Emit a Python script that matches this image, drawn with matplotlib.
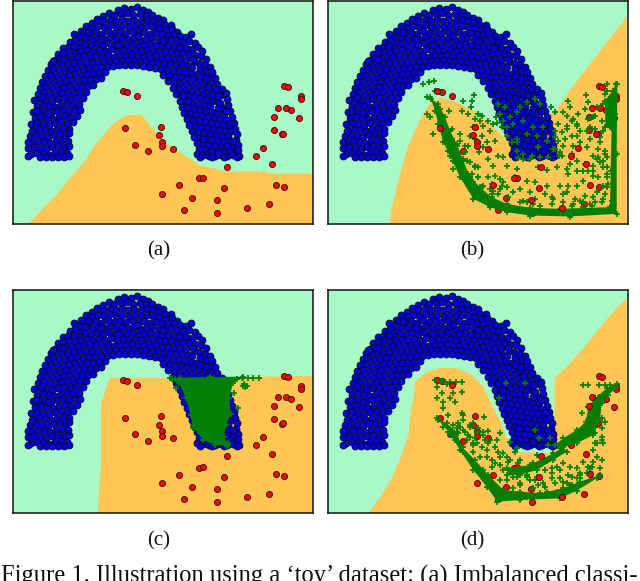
#!/usr/bin/env python3

import numpy as np

import matplotlib
matplotlib.use('Agg')
import matplotlib.pyplot as plt

# blue class, same in all four panels (x, y)
blue_pts = [
    (105,9),(111,7),(118,8),(124,6),(130,9),(135,11),
    (90,15),(96,12),(101,14),(108,13),(114,12),(120,14),(127,13),(133,15),(139,14),(145,17),(150,19),
    (79,22),(84,18),(90,20),(97,19),(103,20),(109,18),(115,20),(121,19),(128,20),(134,19),(140,20),(146,22),(152,24),(158,24),
    (68,30),(73,25),(79,27),(85,25),(91,26),(103,26),(109,25),(116,26),(122,25),(128,26),(134,25),(140,26),(146,27),(153,29),(159,28),(164,31),
    (61,33),(66,36),(71,31),(77,32),(83,31),(89,33),(101,32),(107,31),(113,32),(120,31),(126,32),(131,31),(137,33),(143,32),(149,33),(155,34),(161,33),(167,35),(173,36),(178,33),
    (57,41),(62,39),(68,42),(73,37),(79,38),(85,37),(91,38),(97,36),(103,38),(109,37),(115,38),(121,37),(127,39),(133,38),(139,37),(146,39),(152,39),(158,39),(164,40),(170,41),(176,40),(182,42),
    (50,47),(55,46),(60,45),(66,47),(72,43),(78,44),(84,43),(90,44),(96,42),(102,44),(108,43),(114,44),(120,43),(126,45),(131,44),(137,43),(143,44),(149,45),(155,45),(161,46),(167,46),(173,47),(179,48),(185,46),(189,50),
    (45,53),(50,52),(56,51),(62,52),(68,50),(74,49),(80,50),(86,49),(92,50),(98,48),(104,50),(110,49),(116,50),(122,49),(134,49),(140,50),(146,50),(152,51),(158,51),(164,52),(170,52),(176,53),(182,54),(188,55),(193,58),
    (42,59),(47,57),(53,57),(59,58),(65,56),(71,55),(77,56),(83,55),(89,56),(95,54),(101,56),(107,55),(113,55),(119,54),(125,56),(131,55),(143,55),(149,57),(155,57),(161,58),(167,58),(173,59),(186,62),(192,64),(197,66),
    (38,63),(43,62),(49,63),(55,64),(61,62),(67,61),(73,62),(79,61),(85,62),(91,60),(97,61),(103,60),(109,60),(115,59),(121,60),(127,61),(133,60),(139,61),(145,61),(151,63),(157,63),(163,64),(169,64),(175,65),(187,68),(193,70),(199,71),
    (35,69),(40,68),(46,69),(52,70),(58,68),(64,67),(70,68),(76,67),(82,67),(88,66),(94,66),(100,65),(106,64),(112,64),(118,64),(124,64),(130,65),(136,66),(142,67),(148,68),(154,69),(160,70),(166,70),(172,71),(178,72),(184,73),(190,75),(202,77),
    (32,75),(38,74),(44,75),(50,76),(56,74),(62,73),(68,74),(74,73),(80,73),(86,72),(92,71),(150,74),(156,75),(162,76),(168,76),(174,77),(180,78),(186,79),(192,81),(198,82),(204,83),
    (29,81),(35,80),(41,81),(47,82),(53,80),(59,79),(65,80),(71,79),(77,79),(83,78),(88,77),(155,80),(161,82),(167,82),(173,83),(179,84),(185,85),(197,88),(203,89),(209,88),
    (27,87),(33,86),(39,87),(45,88),(51,86),(57,85),(63,86),(69,85),(75,85),(80,84),(160,87),(166,88),(172,89),(178,90),(184,91),(190,93),(196,94),(202,95),(208,94),(213,92),
    (25,93),(31,92),(37,93),(43,94),(49,92),(55,91),(61,92),(67,91),(73,91),(163,93),(169,94),(175,95),(181,96),(187,97),(193,99),(199,100),(205,101),(214,98),
    (21,99),(27,98),(33,99),(39,100),(45,98),(51,97),(57,98),(63,97),(70,97),(167,100),(173,101),(179,102),(185,103),(191,104),(197,105),(210,107),(215,104),
    (24,105),(30,104),(36,105),(42,106),(48,104),(54,103),(60,104),(66,103),(169,106),(175,107),(181,108),(187,109),(193,110),(199,111),(204,112),(217,110),
    (20,111),(26,110),(32,111),(38,112),(44,110),(50,109),(56,110),(62,109),(67,109),(171,112),(177,113),(183,114),(189,115),(195,116),(201,117),(207,118),(213,119),(219,116),
    (22,117),(28,116),(34,117),(40,118),(46,116),(52,115),(58,116),(64,115),(174,118),(180,119),(186,120),(192,121),(198,122),(204,123),(210,124),(216,125),(221,122),
    (18,123),(24,122),(30,123),(42,122),(48,121),(54,122),(60,121),(176,124),(182,125),(188,126),(194,127),(200,128),(206,129),(212,130),(218,130),(222,128),
    (20,129),(26,128),(32,129),(38,130),(44,128),(50,127),(56,128),(179,130),(185,131),(191,132),(197,133),(203,134),(209,135),(215,135),(224,133),
    (17,135),(23,134),(29,135),(35,136),(41,134),(47,133),(53,134),(56,132),(181,136),(187,137),(193,138),(199,139),(205,140),(211,140),(217,140),(223,139),
    (19,141),(25,140),(31,141),(37,142),(43,140),(49,139),(55,140),(184,142),(190,143),(196,144),(202,145),(208,146),(214,145),(220,146),(225,144),
    (15,147),(21,146),(27,147),(33,148),(39,146),(45,145),(51,146),(56,145),(186,148),(192,149),(198,150),(204,151),(210,151),(216,150),(222,151),(225,149),
    (18,153),(24,152),(30,153),(36,154),(42,152),(48,151),(54,152),(184,153),(190,154),(196,155),(202,155),(208,154),(214,155),(220,154),(226,155),
    (15,155),(27,156),(33,156),(39,156),(45,156),(51,156),(56,155),(187,156),(199,156),(211,156),(224,156),
    (181,60),(179,66),(196,76),(191,87),(205,107),(211,113),(36,124),(128,50),(137,56),(97,24),(95,30),(187,75),(195,86),
    (200,94),(207,102),(213,110),(170,94),(175,100),(35,112),(29,96),(15,141),(19,130),(23,110),(40,60),(50,58),(61,45),
    (75,31),(88,38),(105,44),(125,35),(150,40),(166,47),(180,58),(193,77),(205,95),(217,122),(220,140),(205,152),(190,138),
]

# red class, same in all four panels
red_x = [109.7, 114, 124, 112.3, 147.7, 145.7, 149.3, 149, 122, 135, 160, 271.3, 274.7, 288.3, 288, 264.7,
         272.7, 278, 261.3, 286.3, 261.3, 268.7, 270, 250, 243.3, 258.7, 213.7, 186, 189.7, 165.7, 211.3,
         262.7, 271, 149.3, 178.7, 203.7, 170.7, 204.3, 234, 256]
red_y = [90, 91.3, 95, 127.7, 126.3, 134.7, 141, 145.7, 144, 150.7, 148, 85.7, 86.7, 95.7, 98.7, 107,
         107.3, 109.3, 116, 117, 129, 133.7, 133, 147.3, 155.3, 163.7, 166.3, 177.7, 177, 184.7, 187.3,
         184.3, 186, 193, 197, 199, 209, 212.3, 207.3, 203.7]
# red points mostly buried under the green samples
red_under_b = [1, 8, 9, 13, 14, 16, 17, 18, 19, 20, 22, 28, 32, 33, 34, 36, 37, 39]
red_under_d = [0, 1, 3, 5, 6, 7, 8, 9, 10, 13, 14, 16, 17, 20, 21, 22, 23, 24, 27, 28, 32, 34, 35, 36]

# classifier regions, orange side
orange_a_x = [16, 30, 43, 55, 70, 83, 100, 113, 128, 135, 147, 167, 187, 202, 213, 233, 253, 256, 299.5, 299.5]
orange_a_y = [223, 208, 195, 180, 163, 143, 123, 115, 114, 122, 137, 152, 165, 168, 171, 171, 171, 173, 173, 223]
orange_b_x = [62, 64, 69, 74, 80, 89, 96, 103, 114, 132, 152, 165, 179, 220, 223, 231, 246, 263, 279, 293, 299, 299.5]
orange_b_y = [223, 208, 187, 168, 147, 127, 113, 102, 97, 103, 113, 125, 140, 130, 113, 107, 85, 63, 42, 25, 15, 223]
orange_c_x = [85, 86, 88, 88, 91, 94, 97, 107, 150, 159, 220, 299.5, 299.5]
orange_c_y = [223, 200, 177, 113, 105, 95, 88, 88, 88, 90, 87, 86, 223]
orange_d_x = [41, 53, 65, 74, 81, 83, 87, 87, 99, 112, 129, 144, 156, 163, 173, 181, 186, 227, 223, 227, 227, 239, 256, 276, 289,
              299, 299.5]
orange_d_y = [223, 207, 187, 165, 145, 123, 103, 92, 82, 78, 78, 85, 97, 113, 132, 153, 162, 163, 150, 140, 88, 77, 58, 33, 18,
              9, 223]

# green samples of (b), solid band read as an outline
band_b_x = np.array([33, 45, 55, 70, 90, 120, 160, 210, 260, 330, 450, 590, 590, 592, 587, 578, 555, 556, 575, 572, 570, 420, 330,
                     260, 215, 180, 150, 130, 110, 90, 75, 55]) / 3 + 92.5
band_b_y = np.array([85, 120, 160, 215, 255, 320, 385, 410, 425, 435, 438, 430, 250, 40, 40, 60, 90, 170, 175, 300, 410, 415, 412,
                     400, 380, 350, 320, 270, 220, 180, 140, 100]) / 3 + 70
plus_b_x = np.array([8, 28, 42, 20, 30, 45, 60, 128, 155, 162, 152, 88, 125, 30, 145, 175, 185, 165, 180, 205, 218, 232, 228,
                     245, 190, 160, 150, 185, 165, 210, 225, 200, 145, 178, 135, 120, 110, 100, 100, 125, 165, 140, 175, 220,
                     205, 235, 262, 290, 248, 310, 355, 380, 410, 418, 405, 425, 455, 440, 445, 470, 495, 520, 535, 500, 510,
                     540, 525, 505, 475, 445, 450, 430, 455, 415, 440, 470, 425, 435, 415, 470, 480, 460, 430, 498, 505, 495,
                     530, 525, 545, 510, 548, 540, 555, 520, 505, 550, 560, 535, 548, 510, 530, 490, 470, 445, 420, 440, 465,
                     495, 490, 520, 510, 550, 430, 395, 345, 330, 300, 260, 240, 235, 215, 265, 300, 320, 345, 380, 430, 205,
                     225, 285, 160, 215, 250, 440, 480, 560, 565,
                     240, 255, 270, 290, 320, 345, 360, 392, 405, 260, 280, 310, 340, 370, 260, 290, 320, 350, 380, 290, 310,
                     335, 355, 275, 295, 330, 400, 360, 385, 250, 300, 235,
                     20, 60, 70, 40, 75, 95, 85, 110, 130, 150, 165, 130, 155, 100, 120, 175, 190, 210, 245, 280, 310, 340,
                     375, 400, 455, 480, 515, 545, 555, 560, 540, 520, 555, 530, 500, 470, 455, 405, 440, 460, 520, 560, 555,
                     190, 120, 95, 135, 290, 405, 420, 450, 470, 490, 520, 535, 550, 560, 560, 575, 582, 585, 560, 550, 560,
                     525, 490, 460, 395, 360, 320, 240, 220, 185, 175, 160, 150, 145]) / 3 + 92.5
plus_b_y = np.array([40, 33, 32, 78, 80, 60, 65, 90, 90, 72, 108, 120, 122, 140, 130, 130, 135, 145, 150, 150, 160, 158, 140,
                     170, 165, 170, 195, 195, 205, 180, 210, 215, 225, 245, 245, 210, 225, 255, 295, 320, 285, 270, 290, 285,
                     265, 255, 285, 295, 258, 265, 290, 298, 290, 255, 235, 255, 250, 295, 310, 300, 280, 255, 235, 230, 205,
                     200, 175, 145, 130, 90, 110, 125, 150, 160, 165, 160, 185, 205, 210, 195, 215, 225, 225, 72, 95, 115,
                     110, 135, 150, 170, 180, 215, 240, 285, 300, 290, 310, 320, 345, 345, 365, 330, 345, 345, 345, 365, 385,
                     375, 395, 380, 400, 385, 395, 380, 385, 365, 355, 350, 325, 370, 340, 380, 395, 330, 335, 345, 370, 320,
                     315, 320, 385, 370, 335, 135, 180, 260, 340,
                     130, 110, 140, 125, 95, 85, 100, 110, 125, 170, 160, 150, 170, 170, 195, 205, 190, 195, 210, 240, 250,
                     255, 230, 215, 262, 265, 235, 260, 258, 150, 110, 100,
                     130, 115, 140, 190, 215, 205, 240, 255, 265, 275, 290, 295, 310, 270, 290, 320, 345, 355, 345, 365, 390,
                     400, 370, 385, 405, 390, 405, 395, 370, 290, 275, 300, 250, 265, 180, 165, 195, 180, 175, 145, 140, 120,
                     70, 230, 190, 175, 225, 215, 200, 245, 280, 270, 300, 315, 260, 270, 320, 350, 390, 400, 130, 40, 100, 60,
                     395, 410, 400, 400, 405, 395, 355, 360, 350, 320, 335, 325, 310]) / 3 + 70

# green samples of (c), the collapsed blob and a few strays
blob_c_x = np.array([30, 60, 150, 250, 218, 208, 212, 198, 192, 205, 200, 165, 130, 100, 92, 78, 58]) / 3 + 147
blob_c_y = np.array([40, 38, 36, 35, 55, 100, 148, 180, 215, 240, 242, 240, 225, 190, 150, 100, 55]) / 3 + 75
plus_c_x = np.array([47, 222, 235, 250, 255, 245, 265, 280, 297, 252, 260, 230, 35, 45, 60, 215, 100, 205]) / 3 + 147
plus_c_y = np.array([70, 85, 128, 62, 65, 40, 40, 38, 40, 58, 62, 42, 42, 42, 48, 48, 180, 235]) / 3 + 75

# green samples of (d), solid strips read as outlines
strip_d_x = np.array([52, 80, 110, 125, 165, 205, 250, 300, 360, 430, 480, 540, 530, 470, 420, 300, 232, 200, 160, 120, 85]) / 3 + 92.5
strip_d_y = np.array([175, 190, 215, 260, 300, 345, 390, 395, 400, 385, 365, 345, 355, 392, 415, 420, 425, 380, 330, 270, 215]) / 3 + 70
arm_d_x = np.array([590, 560, 525, 505, 498, 470, 430, 405, 420, 470, 520, 540, 545, 565, 590]) / 3 + 92.5
arm_d_y = np.array([72, 85, 115, 140, 185, 210, 235, 255, 265, 250, 225, 180, 130, 105, 82]) / 3 + 70
mid_d_x = np.array([262, 330, 400, 430, 440, 400, 350, 300, 262]) / 3 + 92.5
mid_d_y = np.array([325, 315, 280, 260, 275, 300, 330, 345, 345]) / 3 + 70
plus_d_x = np.array([45, 60, 75, 90, 108, 125, 50, 65, 80, 100, 125, 52, 70, 70, 90, 105, 85, 125, 130, 193, 205, 240, 190, 160,
                     150, 115, 130, 170, 230, 270, 290, 285, 258, 315, 237, 345, 358, 390, 385, 490, 505, 537, 555, 570, 485,
                     545, 555, 545, 525, 545, 550, 530, 520, 545, 540, 515, 490, 470, 450, 430, 395, 410, 375, 350, 395, 340,
                     320, 290, 240, 215, 190, 260, 235, 200, 160, 180, 140, 115, 210, 240, 280, 300, 340, 370, 395, 420, 445,
                     470, 500, 515, 440, 380, 330, 260, 280, 220, 215, 300, 270, 350, 420, 470, 260, 170, 130, 150, 185, 130,
                     240,
                     100, 110, 120, 135, 150, 145, 165, 175, 160, 190, 195, 205, 225, 250, 265, 295, 320, 345, 355, 375, 405,
                     430, 455, 480, 505, 520, 160, 200, 225, 250, 280, 300, 320, 360, 395, 420, 455, 480, 510, 530, 525, 545,
                     55, 70, 90, 105, 130, 150, 165, 190, 215, 240, 410, 450, 480, 510]) / 3 + 92.5
plus_d_y = np.array([60, 62, 65, 65, 65, 65, 82, 100, 72, 100, 95, 113, 125, 143, 115, 125, 165, 160, 165, 172, 213, 218, 215,
                     190, 200, 190, 210, 220, 240, 245, 265, 275, 68, 70, 115, 210, 235, 235, 255, 75, 75, 75, 75, 75, 160,
                     175, 185, 205, 220, 230, 250, 250, 270, 300, 325, 320, 305, 325, 320, 310, 325, 320, 330, 285, 290, 310,
                     345, 350, 315, 300, 330, 290, 275, 270, 255, 290, 240, 220, 240, 360, 330, 370, 385, 370, 355, 355, 345,
                     355, 340, 355, 370, 395, 360, 360, 385, 345, 320, 300, 300, 350, 395, 375, 395, 250, 180, 230, 260, 260,
                     290,
                     195, 205, 200, 215, 195, 225, 235, 205, 250, 225, 240, 250, 260, 280, 305, 310, 350, 360, 375, 380, 370,
                     365, 350, 340, 320, 305, 275, 290, 310, 330, 350, 375, 345, 355, 340, 330, 375, 345, 335, 290, 250, 240,
                     180, 200, 225, 240, 275, 300, 320, 350, 375, 395, 395, 375, 355, 325]) / 3 + 70

panel_letters = ['(a)', '(b)', '(c)', '(d)']
caption = 'Figure 1. Illustration using a ‘toy’ dataset: (a) Imbalanced classi-'

MINT = '#A9F9C8'
ORANGE = '#FEC652'
GREEN = '#047E04'
W, H = 640, 581

blue_x = np.array([p[0] for p in blue_pts], dtype=float)
blue_y = np.array([p[1] for p in blue_pts], dtype=float)
red_x = np.array(red_x)
red_y = np.array(red_y)


def panel(left, top):
    ax = fig.add_axes([left / W, 1 - (top + 223) / H, 300 / W, 223 / H])
    ax.set_xlim(0, 300)
    ax.set_ylim(223, 0)
    ax.set_xticks([])
    ax.set_yticks([])
    ax.set_facecolor(MINT)
    for s in ax.spines.values():
        s.set_linewidth(1.1)
        s.set_color('#111111')
    return ax


def draw_common(ax, orange_x, orange_y, under=()):
    ax.fill(orange_x, orange_y, color=ORANGE, lw=0, zorder=1)
    ax.plot(blue_x, blue_y, 'o', ms=5, mfc='#0606D0', mec='#080830', mew=0.6, zorder=3)
    over = [i for i in range(len(red_x)) if i not in under]
    if len(under):
        ax.plot(red_x[list(under)], red_y[list(under)], 'o', ms=4.4, mfc='#F00808', mec='#301010', mew=0.6, zorder=2)
    ax.plot(red_x[over], red_y[over], 'o', ms=4.4, mfc='#F00808', mec='#301010', mew=0.6, zorder=6)


def draw_plus(ax, x, y):
    ax.plot(x, y, '+', ms=5, mew=1.25, color=GREEN, zorder=5)


def draw_strip(ax, x, y):
    ax.fill(x, y, color=GREEN, lw=0, zorder=4)
    ax.plot(x, y, '+', ms=5, mew=1.25, color=GREEN, zorder=4)


fig = plt.figure(figsize=(W / 100, H / 100), dpi=100)

ax_a = panel(13, 0.5)
draw_common(ax_a, orange_a_x, orange_a_y)

ax_b = panel(327.5, 0.5)
draw_common(ax_b, orange_b_x, orange_b_y, red_under_b)
draw_strip(ax_b, band_b_x, band_b_y)
draw_plus(ax_b, plus_b_x, plus_b_y)

ax_c = panel(13, 290)
draw_common(ax_c, orange_c_x, orange_c_y)
draw_strip(ax_c, blob_c_x, blob_c_y)
draw_plus(ax_c, plus_c_x, plus_c_y)

ax_d = panel(327.5, 290)
draw_common(ax_d, orange_d_x, orange_d_y, red_under_d)
draw_strip(ax_d, strip_d_x, strip_d_y)
draw_strip(ax_d, arm_d_x, arm_d_y)
draw_strip(ax_d, mid_d_x, mid_d_y)
draw_plus(ax_d, plus_d_x, plus_d_y)

for letter, cx, cy in zip(panel_letters, [159, 472, 159, 472], [251, 251, 541, 541]):
    fig.text(cx / W, 1 - cy / H, letter, family='Liberation Serif', fontsize=15, ha='center', va='center',
             color='#111111')
fig.text(1 / W, 1 - 583 / H, caption, family='Liberation Serif', fontsize=17.7, ha='left', va='baseline',
         color='#111111')

fig.savefig('out.png', dpi=100)
